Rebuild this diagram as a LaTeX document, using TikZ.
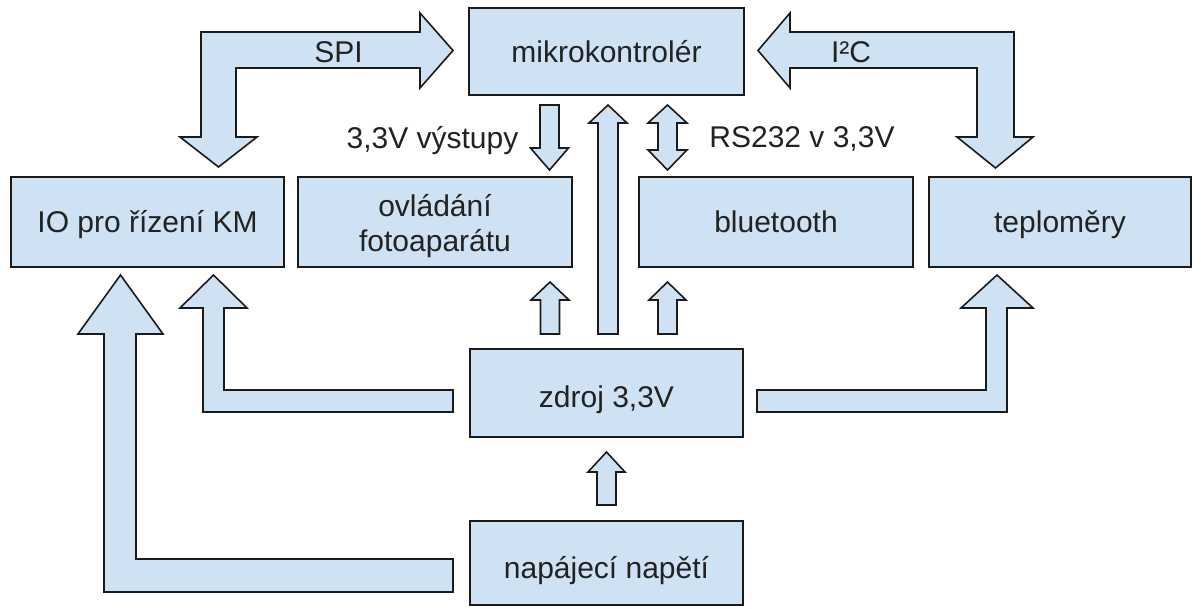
\documentclass[tikz,border=0pt]{standalone}
\usepackage{fontspec}
\setmainfont{Liberation Sans}
\definecolor{boxfill}{HTML}{CFE2F3}
\definecolor{edge}{HTML}{1A1A1A}
\definecolor{ink}{HTML}{222222}
\tikzset{
  blk/.style={draw=edge, fill=boxfill, line width=1.6pt, text=ink,
    font=\fontsize{30}{35}\selectfont, align=center, inner sep=0pt,
    text height=22pt, text depth=0pt},
  barrow/.style={draw=edge, fill=boxfill, line width=1.6pt, line join=miter},
  lbl/.style={text=ink, font=\fontsize{30}{35}\selectfont, inner sep=0pt}
}
\begin{document}
\begin{tikzpicture}[x=1pt,y=-1pt]
\useasboundingbox (0,0) rectangle (1201,609);
% boxes
\node[blk, minimum width=275pt, minimum height=87pt] (mcu) at (606.5,51.5) {mikrokontrolér};
\node[blk, minimum width=273pt, minimum height=90pt] (io) at (147.5,222) {IO pro řízení KM};
\node[blk, minimum width=274pt, minimum height=90pt, text height=60pt] (cam) at (435,222) {ovládání\\fotoaparátu};
\node[blk, minimum width=274pt, minimum height=90pt] (bt) at (776,222) {bluetooth};
\node[blk, minimum width=262pt, minimum height=90pt] (temp) at (1060,222) {teploměry};
\node[blk, minimum width=273pt, minimum height=88pt, text height=28pt] (src) at (606.5,393) {zdroj 3,3V};
\node[blk, minimum width=273pt, minimum height=84pt, text height=30pt] (pwr) at (606.5,563) {napájecí napětí};
% SPI arrow (bidirectional, L-shaped)
\draw[barrow] (453,50.5) -- (420,13) -- (420,32) -- (201,32) -- (201,137) -- (180,137)
  -- (218.5,167) -- (257,137) -- (236,137) -- (236,68) -- (420,68) -- (420,88) -- cycle;
\node[lbl] (spi) at (338.5,52) {SPI};
% I2C arrow
\draw[barrow] (758,50.5) -- (790,13) -- (790,32) -- (1014,32) -- (1014,137) -- (1033,137)
  -- (995.5,168) -- (957,137) -- (977,137) -- (977,68) -- (790,68) -- (790,88) -- cycle;
\node[lbl] (i2c) at (851,52) {I²C};
% 3,3V outputs (down)
\draw[barrow] (540,105) -- (559,105) -- (559,148) -- (568.5,148) -- (549.5,170)
  -- (530.5,148) -- (540,148) -- cycle;
\node[lbl, anchor=base] (outs) at (432.5,149) {3,3V výstupy};
% long up arrow zdroj -> mcu
\draw[barrow] (598,334) -- (598,123) -- (589,123) -- (608,105) -- (627,123) -- (618,123)
  -- (618,334) -- cycle;
% RS232 double arrow
\draw[barrow] (667.5,105) -- (687,123) -- (677,123) -- (677,150) -- (687,150) -- (667.5,170)
  -- (648,150) -- (658,150) -- (658,123) -- (648,123) -- cycle;
\node[lbl, anchor=base] (rs) at (802,148) {RS232 v 3,3V};
% small up arrows zdroj -> cam, bt
\draw[barrow] (540.5,334) -- (540.5,300) -- (531,300) -- (550,282) -- (569,300) -- (559.5,300)
  -- (559.5,334) -- cycle;
\draw[barrow] (658,334) -- (658,300) -- (649,300) -- (667.5,282) -- (686,300) -- (677,300)
  -- (677,334) -- cycle;
% napajeci -> zdroj
\draw[barrow] (597,505) -- (597,472) -- (588,472) -- (606.5,452) -- (625,472) -- (616,472)
  -- (616,505) -- cycle;
% zdroj -> IO (small L)
\draw[barrow] (213.5,275) -- (247,308) -- (224,308) -- (224,390) -- (453,390) -- (453,412)
  -- (203,412) -- (203,308) -- (180,308) -- cycle;
% napajeci -> IO (big L)
\draw[barrow] (120.5,275) -- (163,334) -- (136,334) -- (136,559) -- (453,559) -- (453,592)
  -- (104,592) -- (104,334) -- (78,334) -- cycle;
% zdroj -> teplomery
\draw[barrow] (757,390) -- (986,390) -- (986,308) -- (961,308) -- (997,275) -- (1033,308)
  -- (1007,308) -- (1007,412) -- (757,412) -- cycle;
\end{tikzpicture}
\end{document}
